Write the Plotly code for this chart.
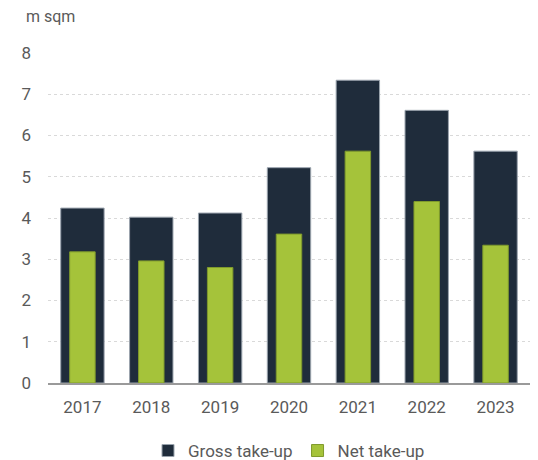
import plotly.graph_objects as go

years = ["2017", "2018", "2019", "2020", "2021", "2022", "2023"]
gross = [4.24, 4.02, 4.12, 5.22, 7.34, 6.61, 5.62]
net = [3.18, 2.96, 2.80, 3.61, 5.62, 4.40, 3.34]

navy = "#1f2c3b"
green = "#a5c33a"
font_family = "Roboto, sans-serif"

fig = go.Figure()
fig.add_trace(go.Bar(
    x=years, y=gross, name="Gross take-up", width=0.63,
    marker=dict(color=navy, line=dict(color="#9aa3ad", width=1)),
))
fig.add_trace(go.Bar(
    x=years, y=net, name="Net take-up", width=0.37,
    marker=dict(color=green, line=dict(color="#7f9a2c", width=1)),
))

fig.update_layout(
    width=538, height=460,
    barmode="overlay",
    plot_bgcolor="white", paper_bgcolor="white",
    margin=dict(l=48, r=8, t=53, b=77, autoexpand=False),
    font=dict(family=font_family, size=17, color="#5a5a5a"),
    showlegend=True,
    legend=dict(orientation="h", x=0.5, xanchor="center", y=-0.206, yanchor="middle",
                font=dict(size=17, color="#5a5a5a"), traceorder="normal",
                itemwidth=30),
    annotations=[dict(text="m sqm", xref="paper", yref="paper", x=-0.05, y=1.075,
                      xanchor="left", yanchor="bottom", showarrow=False,
                      font=dict(size=16, color="#5a5a5a"))],
    xaxis=dict(showline=True, linecolor="#9a9a9a", linewidth=2, ticks="",
               ticklabelstandoff=8,
               tickfont=dict(size=17, color="#5a5a5a"), showgrid=False),
    yaxis=dict(range=[0, 8], dtick=1, showgrid=True, gridcolor="#d9d9d9",
               griddash="dot", gridwidth=1, zeroline=False, ticks="",
               ticklabelstandoff=16,
               tickfont=dict(size=17, color="#5a5a5a")),
)

fig.write_html("out.html")
